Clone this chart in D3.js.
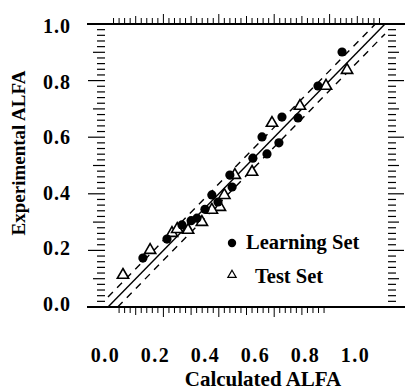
<!DOCTYPE html>
<html>
<head>
<meta charset="utf-8">
<script src="https://cdn.jsdelivr.net/npm/d3@7"></script>
<style>
  body { margin: 0; background: #fff; }
  text { font-family: "Liberation Serif", "Times New Roman", "DejaVu Serif", serif; font-weight: bold; fill: #000; }
</style>
</head>
<body>
<svg id="svgScatter" width="405" height="391"></svg>
<script>
// calculated vs experimental ALFA, learning set (filled dots)
var learnCalc = [0.126, 0.213, 0.267, 0.321, 0.375, 0.397, 0.440, 0.448, 0.523, 0.556,
                 0.574, 0.617, 0.628, 0.686, 0.758, 0.845, 0.300, 0.350];
var learnExp  = [0.173, 0.240, 0.290, 0.314, 0.396, 0.371, 0.466, 0.424, 0.526, 0.601,
                 0.541, 0.580, 0.671, 0.668, 0.781, 0.901, 0.305, 0.345];

// test set (open triangles)
var testCalc = [0.054, 0.152, 0.231, 0.289, 0.339, 0.404, 0.458, 0.520, 0.592, 0.693,
                0.787, 0.863, 0.375, 0.420, 0.250];
var testExp  = [0.113, 0.201, 0.261, 0.272, 0.300, 0.353, 0.466, 0.477, 0.650, 0.710,
                0.781, 0.837, 0.343, 0.395, 0.275];

var tickLabels = [0, 0.2, 0.4, 0.6, 0.8, 1.0];
var bandOffset = [-0.035, 0, 0.035];
var legendNames = ["Learning Set", "Test Set"];

var FONT = "'Liberation Serif', 'Times New Roman', serif";

var svg = d3.select("#svgScatter");

// plot scales (the y = x line runs corner to corner)
var x = d3.scaleLinear().domain([0, 1]).range([108, 385]);
var y = d3.scaleLinear().domain([0, 1]).range([307, 24]);

// the printed tick labels sit slightly off the plot scale in the original
var xLab = d3.scaleLinear().domain([0, 1]).range([105, 355]);
var yLab = d3.scaleLinear().domain([0, 1]).range([304, 26]);

// frame lines top and bottom
[1, 0].forEach(function(v) {
  svg.append("line")
    .attr("x1", 87).attr("x2", 405)
    .attr("y1", y(v)).attr("y2", y(v))
    .attr("stroke", "#000").attr("stroke-width", 2);
});

// minor ticks, many of them
var fine = d3.range(0, 51).map(function(i) { return i / 50; });
function tickLen(v, a, b, c) {
  var k = Math.round(v * 50);
  if (k % 10 === 0) return a;
  if (k % 5 === 0) return b;
  return c;
}

svg.append("g").selectAll("line")
  .data(fine.filter(function(v) { return v > 0.01 && v < 0.99; }))
  .join("line")
  .attr("x1", 105).attr("x2", function(d) { return 105 - tickLen(d, 17, 12, 8); })
  .attr("y1", function(d) { return y(d); }).attr("y2", function(d) { return y(d); })
  .attr("stroke", "#000").attr("stroke-width", 1.2);

svg.append("g").selectAll("line")
  .data(fine.filter(function(v) { return v > 0.01 && v < 0.99; }))
  .join("line")
  .attr("x1", 388).attr("x2", function(d) { return 388 + tickLen(d, 16, 11, 8); })
  .attr("y1", function(d) { return y(d); }).attr("y2", function(d) { return y(d); })
  .attr("stroke", "#000").attr("stroke-width", 1.2);

svg.append("g").selectAll("line")
  .data(fine.filter(function(v) { return v > 0.01 && v < 0.99; }))
  .join("line")
  .attr("x1", function(d) { return x(d); }).attr("x2", function(d) { return x(d); })
  .attr("y1", y(1)).attr("y2", function(d) { return y(1) - tickLen(d, 10, 8, 6); })
  .attr("stroke", "#000").attr("stroke-width", 1);

svg.append("g").selectAll("line")
  .data(fine.filter(function(v) { return v > 0.03 && v < 0.8; }))
  .join("line")
  .attr("x1", function(d) { return x(d); }).attr("x2", function(d) { return x(d); })
  .attr("y1", y(0)).attr("y2", function(d) { return y(0) + tickLen(d, 10, 8, 6); })
  .attr("stroke", "#000").attr("stroke-width", 1);

// tick labels
svg.append("g")
  .attr("transform", "translate(0,362)")
  .call(d3.axisBottom(xLab).tickValues(tickLabels).tickSize(0).tickFormat(d3.format(".1f")))
  .call(function(g) { g.select(".domain").remove(); })
  .selectAll("text")
  .attr("dy", "-0.15em")
  .style("font-size", "20px").style("font-family", FONT).style("font-weight", "bold")
  .style("letter-spacing", "1.5px");

svg.append("g")
  .attr("transform", "translate(71,0)")
  .call(d3.axisLeft(yLab).tickValues(tickLabels).tickSize(0).tickFormat(d3.format(".1f")))
  .call(function(g) { g.select(".domain").remove(); })
  .selectAll("text")
  .attr("x", 0)
  .style("font-size", "20px").style("font-family", FONT).style("font-weight", "bold")
  .style("letter-spacing", "1px");

// axis titles
svg.append("text")
  .attr("x", 263).attr("y", 386)
  .style("text-anchor", "middle").style("font-size", "21px")
  .text("Calculated ALFA");

svg.append("text")
  .attr("transform", "rotate(-90)")
  .attr("x", -153).attr("y", 25)
  .style("text-anchor", "middle").style("font-size", "19px")
  .text("Experimental ALFA");

// y = x line and the dashed band
var line = d3.line()
  .x(function(d) { return x(d[0]); })
  .y(function(d) { return y(d[1]); });

bandOffset.forEach(function(off) {
  var pts = off >= 0 ? [[0, off], [1 - off, 1]] : [[-off, 0], [1, 1 + off]];
  svg.append("path")
    .attr("d", line(pts))
    .attr("fill", "none")
    .attr("stroke", "#000")
    .attr("stroke-width", 1.4)
    .attr("stroke-dasharray", off === 0 ? null : "7,6");
});

// triangles for test set
var tri = d3.symbol().type(d3.symbolTriangle);
svg.append("g").selectAll("path")
  .data(testCalc)
  .join("path")
  .attr("transform", function(d, i) { return "translate(" + x(d) + "," + y(testExp[i]) + ")"; })
  .attr("d", tri.size(55)())
  .attr("fill", "#fff").attr("stroke", "#000").attr("stroke-width", 1.6);

// dots for learning set
svg.append("g").selectAll("circle")
  .data(learnCalc)
  .join("circle")
  .attr("cx", function(d) { return x(d); })
  .attr("cy", function(d, i) { return y(learnExp[i]); })
  .attr("r", 4.6)
  .attr("fill", "#000");

// legend
svg.append("circle").attr("cx", 232).attr("cy", 243).attr("r", 4.2).attr("fill", "#000");
svg.append("text").attr("x", 246).attr("y", 249).style("font-size", "20.5px").text(legendNames[0]);
svg.append("path")
  .attr("transform", "translate(232,275)")
  .attr("d", tri.size(30)())
  .attr("fill", "#fff").attr("stroke", "#000").attr("stroke-width", 1.2);
svg.append("text").attr("x", 255).attr("y", 283).style("font-size", "20.5px").text(legendNames[1]);
</script>
</body>
</html>
